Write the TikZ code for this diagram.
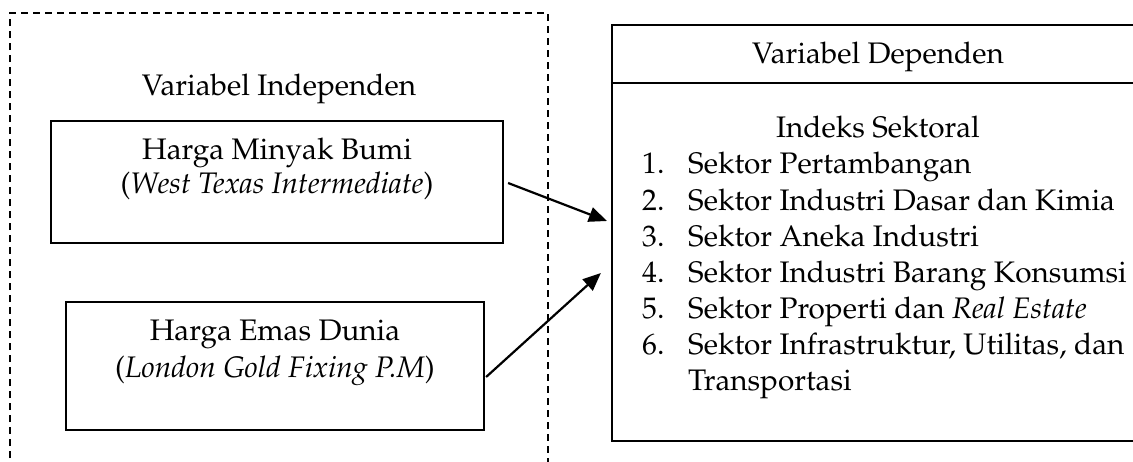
\documentclass[tikz,border=0pt]{standalone}
\usepackage[T1]{fontenc}
\usepackage{mathpazo}
\usetikzlibrary{arrows.meta,calc}

\begin{document}
\begin{tikzpicture}[x=1pt,y=-1pt,
  every node/.style={font=\fontsize{29.7}{36}\selectfont},
  box/.style={draw,line width=2.2pt,inner sep=0pt},
  txt/.style={anchor=base,inner sep=0pt},
  item/.style={anchor=base west,inner sep=0pt},
  arr/.style={line width=2.2pt,-{Triangle[length=18pt,width=15pt]}}]
   \useasboundingbox (0,0) rectangle (1133,461);
   \draw[line width=1.6pt,dash pattern=on 7pt off 5pt] (10,470) |- (548,13) -- (548,470);
   \node[txt] (indep) at (279,95) {Variabel Independen};
   \node[box,minimum width=452pt,minimum height=122pt] (minyak) at (277,182) {};
   \node[txt] (minyakA) at (277,159) {Harga Minyak Bumi};
   \node[txt] (minyakB) at (277,193) {(\textit{West Texas Intermediate})};
   \node[box,minimum width=418pt,minimum height=128pt] (emas) at (275,366) {};
   \node[txt] (emasA) at (275,340) {Harga Emas Dunia};
   \node[txt] (emasB) at (275,377) {(\textit{London Gold Fixing P.M})};
   \node[box,minimum width=532pt,minimum height=416pt] (dep) at (878,233) {};
   \draw[line width=2.2pt] ($(dep.north west)+(0,59)$) -- ($(dep.north east)+(0,59)$);
   \node[txt] (depA) at (878,63) {Variabel Dependen};
   \node[txt] (indeks) at (878,137) {Indeks Sektoral};
   \node[item] (sek1) at (642,173) {\makebox[46pt][l]{1.}Sektor Pertambangan};
   \node[item] (sek2) at (642,210) {\makebox[46pt][l]{2.}Sektor Industri Dasar dan Kimia};
   \node[item] (sek3) at (642,246) {\makebox[46pt][l]{3.}Sektor Aneka Industri};
   \node[item] (sek4) at (642,282) {\makebox[46pt][l]{4.}Sektor Industri Barang Konsumsi};
   \node[item] (sek5) at (642,318) {\makebox[46pt][l]{5.}Sektor Properti dan \textit{Real Estate}};
   \node[item] (sek6) at (642,354) {\makebox[46pt][l]{6.}Sektor Infrastruktur, Utilitas, dan};
   \node[item] (sek6b) at (688,390) {Transportasi};
   \draw[arr] ($(minyak.east)+(4,1)$) -- ($(dep.west)+(-4,-12)$);
   \draw[arr] ($(emas.east)+(1,11)$) -- ($(dep.west)+(-10,40)$);
\end{tikzpicture}
\end{document}
